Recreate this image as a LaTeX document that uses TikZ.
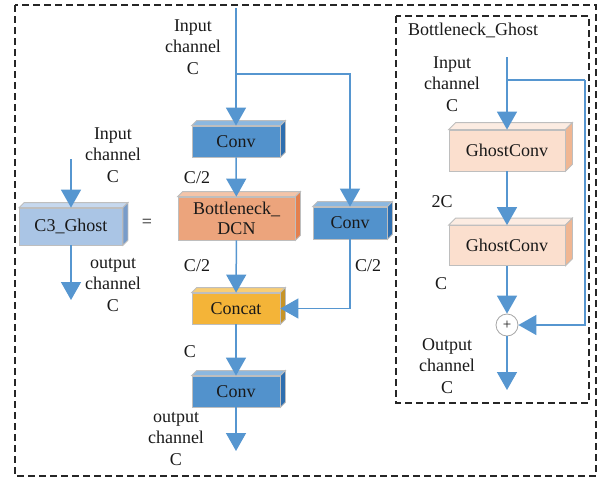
\documentclass[tikz,border=0pt]{standalone}
\usepackage{fontspec}
\setmainfont{Liberation Serif}
\usetikzlibrary{arrows.meta}
\definecolor{arrowblue}{RGB}{86,150,208}
\definecolor{convF}{RGB}{82,146,204}
\definecolor{convT}{RGB}{140,184,224}
\definecolor{convS}{RGB}{46,110,175}
\definecolor{dcnF}{RGB}{236,164,124}
\definecolor{dcnT}{RGB}{244,196,168}
\definecolor{dcnS}{RGB}{228,128,78}
\definecolor{catF}{RGB}{244,180,56}
\definecolor{catT}{RGB}{248,206,118}
\definecolor{catS}{RGB}{198,148,40}
\definecolor{c3F}{RGB}{170,197,229}
\definecolor{c3T}{RGB}{198,216,238}
\definecolor{c3S}{RGB}{120,156,202}
\definecolor{ghF}{RGB}{251,223,206}
\definecolor{ghT}{RGB}{252,236,226}
\definecolor{ghS}{RGB}{240,182,146}
\definecolor{edge}{RGB}{190,190,190}
\newcommand\boxfaces[4]{%
  \filldraw[fill=#2,draw=edge,line width=0.8pt] (#1.north west) -- ++(#4,-#4) -- ([shift={(#4,-#4)}]#1.north east) -- (#1.north east) -- cycle;
  \filldraw[fill=#3,draw=edge,line width=0.8pt] (#1.north east) -- ++(#4,-#4) -- ([shift={(#4,-#4)}]#1.south east) -- (#1.south east) -- cycle;}
\begin{document}
\begin{tikzpicture}[x=1pt,y=-1pt,
  every node/.style={font=\fontsize{18}{21.5}\selectfont, text=black!90},
  blk/.style={draw=edge, line width=0.8pt, inner sep=0pt, align=center},
  lbl/.style={align=center, inner sep=0pt},
  arr/.style={draw=arrowblue, line width=1.5pt, -{Triangle[width=20pt,length=18pt,fill=arrowblue]}},
  ln/.style={draw=arrowblue, line width=1.5pt},
  dbox/.style={draw=black!85, line width=1.2pt, dash pattern=on 7pt off 4pt}]
\useasboundingbox (0,0) rectangle (600,480);
\draw[dbox] (15,5) rectangle (596,476);
\draw[dbox] (396,16) rectangle (589,403);

% middle column
\node[blk, fill=convF, minimum width=88pt, minimum height=31pt] (conv1) at (236,141.5) {Conv};
\node[blk, fill=dcnF, minimum width=117pt, minimum height=43pt] (dcn) at (236.5,218.5) {Bottleneck\_\\[-2pt]DCN};
\node[blk, fill=convF, minimum width=74pt, minimum height=32pt] (conv2) at (350,223) {Conv};
\node[blk, fill=catF, minimum width=88pt, minimum height=31pt] (concat) at (236,308.5) {Concat};
\node[blk, fill=convF, minimum width=88pt, minimum height=31pt] (conv3) at (236,391.5) {Conv};
\boxfaces{conv1}{convT}{convS}{5}
\boxfaces{dcn}{dcnT}{dcnS}{5}
\boxfaces{conv2}{convT}{convS}{5}
\boxfaces{concat}{catT}{catS}{5}
\boxfaces{conv3}{convT}{convS}{5}

\coordinate (mtop) at (236,8);
\coordinate (mbr) at (236,74);
\coordinate (mout) at (236,451);
\draw[ln] (mtop) -- (mbr);
\draw[arr] (mbr) -- (conv1.north);
\draw[arr] (mbr) -| (conv2.north);
\draw[arr] (conv1) -- (dcn);
\draw[arr] (dcn) -- (concat);
\draw[arr] (conv2.south) |- (concat.east);
\draw[arr] (concat) -- (conv3);
\draw[arr] (conv3) -- (mout);

\node[lbl] (tin) at (193,47) {Input\\channel\\C};
\node[lbl] (l1) at (197,178) {C/2};
\node[lbl] (l2) at (197,266) {C/2};
\node[lbl] (l3) at (368,266) {C/2};
\node[lbl] (l4) at (190,352) {C};
\node[lbl] (tout) at (176,439) {output\\channel\\C};

% left
\node[blk, fill=c3F, minimum width=103pt, minimum height=37pt] (c3) at (71,226.5) {C3\_Ghost};
\boxfaces{c3}{c3T}{c3S}{5}
\coordinate (cin) at (71,159);
\coordinate (cout) at (71,300);
\draw[arr] (cin) -- (c3.north);
\draw[arr] (c3.south) -- (cout);
\node[lbl] (lin) at (113,155) {Input\\channel\\C};
\node[lbl] (lout) at (113,285) {output\\channel\\C};
\node[lbl] (eq) at (147,223) {=};

% right
\node[lbl, anchor=west] (bgt) at (408,30) {Bottleneck\_Ghost};
\node[blk, fill=ghF, minimum width=116pt, minimum height=41pt] (g1) at (507,150.5) {GhostConv};
\node[blk, fill=ghF, minimum width=116pt, minimum height=40pt] (g2) at (507,245.5) {GhostConv};
\boxfaces{g1}{ghT}{ghS}{7}
\boxfaces{g2}{ghT}{ghS}{7}
\node[circle, draw=black!35, line width=0.8pt, fill=white, minimum size=22pt, inner sep=0pt, font=\fontsize{15}{15}\selectfont] (plus) at (507,325) {+};
\coordinate (gin) at (507,57);
\coordinate (gbr) at (507,80);
\coordinate (gcor) at (585,80);
\coordinate (gout) at (507,390);
\draw[ln] (gin) -- (gbr);
\draw[arr] (gbr) -- (g1.north);
\draw[ln] (gbr) -- (gcor);
\draw[arr] (gcor) |- (plus.east);
\draw[arr] (g1) -- (g2);
\draw[arr] (g2) -- (plus.north);
\draw[arr] (plus.south) -- (gout);
\node[lbl] (rin) at (452,84) {Input\\channel\\C};
\node[lbl] (r2c) at (442,202) {2C};
\node[lbl] (rc) at (441,284) {C};
\node[lbl] (rout) at (447,366) {Output\\channel\\C};
\end{tikzpicture}
\end{document}
